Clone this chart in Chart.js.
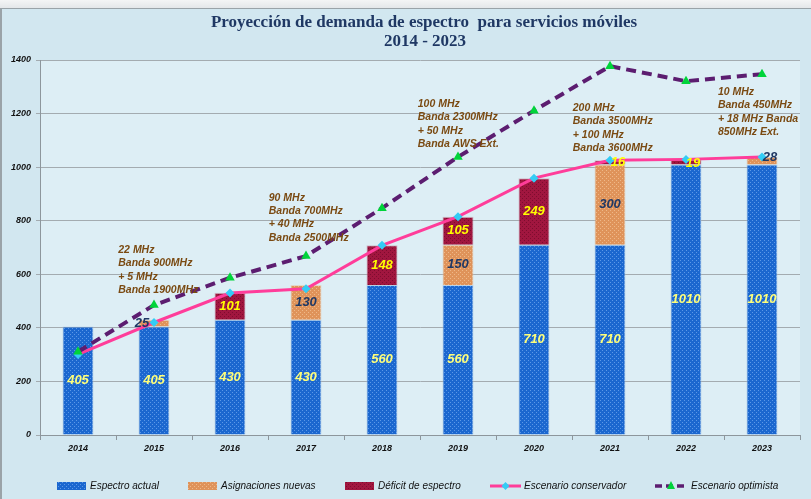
<!DOCTYPE html>
<html>
<head>
<meta charset="utf-8">
<script src="https://cdn.jsdelivr.net/npm/chart.js@4/dist/chart.umd.min.js"></script>
<style>
  html, body { margin: 0; padding: 0; background: #d2e7f0; }
  canvas { display: block; }
</style>
</head>
<body>
<canvas id="myChart" width="811" height="499"></canvas>
<script>
const years = ['2014', '2015', '2016', '2017', '2018', '2019', '2020', '2021', '2022', '2023'];

const espectroActual = [405, 405, 430, 430, 560, 560, 710, 710, 1010, 1010];
const asignacionesNuevas = [0, 25, 0, 130, 0, 150, 0, 300, 0, 28];
const deficitEspectro = [0, 0, 101, 0, 148, 105, 249, 16, 19, 0];

const escenarioConservador = [301, 420, 530, 546, 708, 815, 959, 1026, 1029, 1038];
const escenarioOptimista = [311, 485, 587, 668, 847, 1038, 1211, 1377, 1321, 1347];

const yTicks = [0, 200, 400, 600, 800, 1000, 1200, 1400];

// notas sobre la grafica (x = indice de categoria, y = valor)
const notas = [
  { x: 0.53, y: 690, lines: ['22 MHz', 'Banda 900MHz', '+ 5 MHz', 'Banda 1900MHz'] },
  { x: 2.51, y: 885, lines: ['90 MHz', 'Banda 700MHz', '+ 40 MHz', 'Banda 2500MHz'] },
  { x: 4.47, y: 1235, lines: ['100 MHz', 'Banda 2300MHz', '+ 50 MHz', 'Banda AWS Ext.'] },
  { x: 6.51, y: 1220, lines: ['200 MHz', 'Banda 3500MHz', '+ 100 MHz', 'Banda 3600MHz'] },
  { x: 8.42, y: 1280, lines: ['10 MHz', 'Banda 450MHz', '+ 18 MHz Banda', '850MHz Ext.'] },
];

function makePattern(base, dot) {
  const c = document.createElement('canvas');
  c.width = 4; c.height = 4;
  const g = c.getContext('2d');
  g.fillStyle = base; g.fillRect(0, 0, 4, 4);
  g.fillStyle = dot; g.fillRect(0, 0, 1, 1); g.fillRect(2, 2, 1, 1);
  return g.createPattern(c, 'repeat');
}

const blue = makePattern('#1b67cf', '#5b98e8');
const orange = makePattern('#df935a', '#efb888');
const crimson = makePattern('#a1163f', '#7e0c2e');

// colores y desplazamientos de las etiquetas de las barras
const labelColors = ['#ffff7a', '#1f3864', '#ffff00'];
const labelShift = { '1:1': [-12, 0], '2:7': [8, 0], '2:8': [7, 2], '1:9': [8, -3] };
const labelColorOverride = { '2:7': '#ffff00', '2:8': '#ffff00' };

const bgPlugin = {
  id: 'bg',
  beforeDraw(chart) {
    const ctx = chart.ctx, a = chart.chartArea;
    ctx.save();
    ctx.fillStyle = '#d2e7f0';
    ctx.fillRect(0, 0, chart.width, chart.height);
    const grad = ctx.createLinearGradient(0, 0, 0, 8);
    grad.addColorStop(0, '#f4f5f5');
    grad.addColorStop(1, '#e4e7e9');
    ctx.fillStyle = grad;
    ctx.fillRect(0, 0, chart.width, 8);
    ctx.fillStyle = '#9aa3a8';
    ctx.fillRect(0, 8, chart.width, 1);
    ctx.fillRect(0, 8, 2, chart.height);
    ctx.fillStyle = '#ddeef5';
    ctx.fillRect(a.left, a.top, a.right - a.left, a.bottom - a.top);
    ctx.restore();
  }
};

const decoPlugin = {
  id: 'deco',
  afterDatasetsDraw(chart) {
    const ctx = chart.ctx;
    ctx.save();
    // etiquetas de las barras
    ctx.font = 'italic bold 13px "Liberation Sans"';
    ctx.textAlign = 'center';
    ctx.textBaseline = 'middle';
    [0, 1, 2].forEach(di => {
      chart.getDatasetMeta(di).data.forEach((el, i) => {
        const v = chart.data.datasets[di].data[i];
        if (!v) return;
        const key = di + ':' + i;
        const s = labelShift[key] || [0, 0];
        ctx.fillStyle = labelColorOverride[key] || labelColors[di];
        ctx.fillText(String(v), el.x + s[0], (el.y + el.base) / 2 + s[1]);
      });
    });
    // notas
    const xs = chart.scales.x, ys = chart.scales.y;
    ctx.font = 'italic bold 10.5px "Liberation Sans"';
    ctx.textAlign = 'left';
    ctx.fillStyle = '#7a4a12';
    notas.forEach(n => {
      const px = xs.getPixelForValue(n.x);
      const py = ys.getPixelForValue(n.y);
      n.lines.forEach((t, k) => ctx.fillText(t, px, py + k * 13.3));
    });
    ctx.restore();
  },
  afterDraw(chart) {
    const ctx = chart.ctx;
    ctx.save();
    // titulo
    ctx.fillStyle = '#1f3864';
    ctx.textAlign = 'center';
    ctx.textBaseline = 'middle';
    ctx.font = 'bold 17px "Liberation Serif"';
    ctx.fillText('Proyección de demanda de espectro  para servicios móviles', 424, 23);
    ctx.fillText('2014 - 2023', 425, 42);
    // leyenda
    const ly = 486;
    ctx.font = 'italic 10px "Liberation Sans"';
    ctx.textAlign = 'left';
    const boxes = [[57, blue, 'Espectro actual'], [188, orange, 'Asignaciones nuevas'], [345, crimson, 'Déficit de espectro']];
    boxes.forEach(b => {
      ctx.fillStyle = b[1];
      ctx.fillRect(b[0], ly - 4, 29, 8);
      ctx.fillStyle = '#111';
      ctx.fillText(b[2], b[0] + 33, ly);
    });
    // conservador
    ctx.strokeStyle = '#ff3d9a';
    ctx.lineWidth = 3;
    ctx.beginPath(); ctx.moveTo(490, ly); ctx.lineTo(521, ly); ctx.stroke();
    ctx.fillStyle = '#33ccf5';
    ctx.beginPath();
    ctx.moveTo(505.5, ly - 4); ctx.lineTo(509.5, ly); ctx.lineTo(505.5, ly + 4); ctx.lineTo(501.5, ly);
    ctx.closePath(); ctx.fill();
    ctx.fillStyle = '#111';
    ctx.fillText('Escenario conservador', 524, ly);
    // optimista
    ctx.strokeStyle = '#5c1d70';
    ctx.lineWidth = 3.5;
    ctx.setLineDash([7, 4]);
    ctx.beginPath(); ctx.moveTo(655, ly); ctx.lineTo(688, ly); ctx.stroke();
    ctx.setLineDash([]);
    ctx.fillStyle = '#00d43a';
    ctx.beginPath();
    ctx.moveTo(671, ly - 5); ctx.lineTo(675, ly + 3); ctx.lineTo(667, ly + 3);
    ctx.closePath(); ctx.fill();
    ctx.fillStyle = '#111';
    ctx.fillText('Escenario optimista', 691, ly);
    ctx.restore();
  }
};

const data = {
  labels: years,
  datasets: [
    { type: 'bar', label: 'Espectro actual', data: espectroActual, backgroundColor: blue,
      borderColor: 'rgba(160,190,220,0.6)', borderWidth: 1, stack: 'bars', order: 2 },
    { type: 'bar', label: 'Asignaciones nuevas', data: asignacionesNuevas, backgroundColor: orange,
      borderColor: 'rgba(230,200,170,0.6)', borderWidth: 1, stack: 'bars', order: 2 },
    { type: 'bar', label: 'Déficit de espectro', data: deficitEspectro, backgroundColor: crimson,
      borderColor: 'rgba(200,150,170,0.6)', borderWidth: 1, stack: 'bars', order: 2 },
    { type: 'line', label: 'Escenario conservador', data: escenarioConservador, stack: 'cons', order: 1,
      borderColor: '#ff3d9a', borderWidth: 3, pointStyle: 'rectRot', pointRadius: 4.5,
      pointBackgroundColor: '#33ccf5', pointBorderColor: '#33ccf5', pointBorderWidth: 0, tension: 0 },
    { type: 'line', label: 'Escenario optimista', data: escenarioOptimista, stack: 'opt', order: 0,
      borderColor: '#5c1d70', borderWidth: 4, borderDash: [10, 6], pointStyle: 'triangle', pointRadius: 5.5,
      pointBackgroundColor: '#00d43a', pointBorderColor: '#00d43a', pointBorderWidth: 0, tension: 0 },
  ]
};

const config = {
  data: data,
  options: {
    responsive: false,
    animation: false,
    layout: { padding: { left: 0, top: 60, right: 11, bottom: 44 } },
    datasets: { bar: { barPercentage: 0.82, categoryPercentage: 0.5 } },
    plugins: { legend: { display: false }, title: { display: false }, tooltip: { enabled: false } },
    scales: {
      x: {
        stacked: true,
        grid: { drawOnChartArea: false, drawTicks: true, tickLength: 5, color: '#8d969c' },
        border: { color: '#8d969c' },
        ticks: { color: '#111', padding: 3, font: { family: 'Liberation Sans', size: 9, style: 'italic', weight: 'bold' } },
        afterFit(s) { s.height = 20; }
      },
      y: {
        stacked: true,
        min: 0,
        max: 1400,
        afterBuildTicks(s) { s.ticks = yTicks.map(v => ({ value: v })); },
        grid: { color: '#a3abb0', tickLength: 4 },
        border: { color: '#8d969c' },
        ticks: {
          color: '#111', padding: 5,
          font: { family: 'Liberation Sans', size: 9, style: 'italic', weight: 'bold' },
          callback: v => String(v)
        },
        afterFit(s) { s.width = 40; }
      }
    }
  },
  plugins: [bgPlugin, decoPlugin]
};

const myChart = new Chart(document.getElementById('myChart'), config);
</script>
</body>
</html>
